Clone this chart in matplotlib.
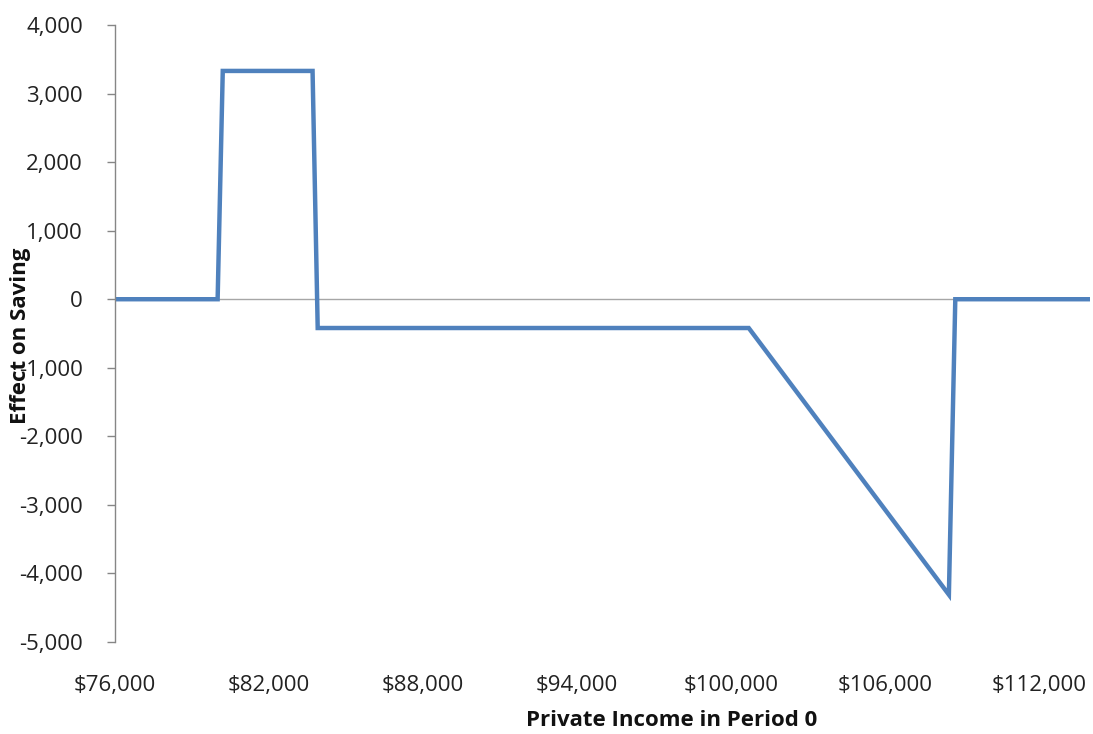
import matplotlib.pyplot as plt
from matplotlib.ticker import FuncFormatter

# Data
income = [76000, 80000, 80200, 83700, 83900, 100700, 108500, 108750, 114000]
effect = [0, 0, 3330, 3330, -420, -420, -4310, 0, 0]

x_ticks = [76000, 82000, 88000, 94000, 100000, 106000, 112000]
y_ticks = [4000, 3000, 2000, 1000, 0, -1000, -2000, -3000, -4000, -5000]

plt.rcParams["font.family"] = ["Open Sans", "DejaVu Sans"]

W, H = 1093, 734
fig = plt.figure(figsize=(W / 100, H / 100), dpi=100)
ax = fig.add_axes([115 / W, 92 / H, 975 / W, 617 / H])

ax.plot(income, effect, color="#4F81BD", linewidth=3.2, solid_joinstyle="miter")
ax.axhline(0, color="#A6A6A6", linewidth=1.0, zorder=0)

ax.set_xlim(76000, 114000)
ax.set_ylim(-5000, 4000)
ax.set_xticks(x_ticks)
ax.set_yticks(y_ticks)
ax.xaxis.set_major_formatter(FuncFormatter(lambda v, p: f"${v:,.0f}"))
ax.yaxis.set_major_formatter(FuncFormatter(lambda v, p: f"{v:,.0f}"))

for side in ["top", "right", "bottom"]:
    ax.spines[side].set_visible(False)
ax.spines["left"].set_color("#868686")
ax.spines["left"].set_linewidth(1.0)

ax.tick_params(axis="y", length=6, width=1.0, color="#868686", pad=17,
               labelsize=16, labelcolor="#222222")
ax.tick_params(axis="x", length=0, pad=24, labelsize=16, labelcolor="#222222")

fig.text(21 / W, 1 - 336 / H, "Effect on Saving", rotation=90, ha="center",
         va="center", fontsize=16, fontweight="bold", color="#111111")
fig.text(672 / W, 1 - 721 / H, "Private Income in Period 0", ha="center",
         va="center", fontsize=16, fontweight="bold", color="#111111")

fig.savefig("out.png", dpi=100)
plt.close(fig)
